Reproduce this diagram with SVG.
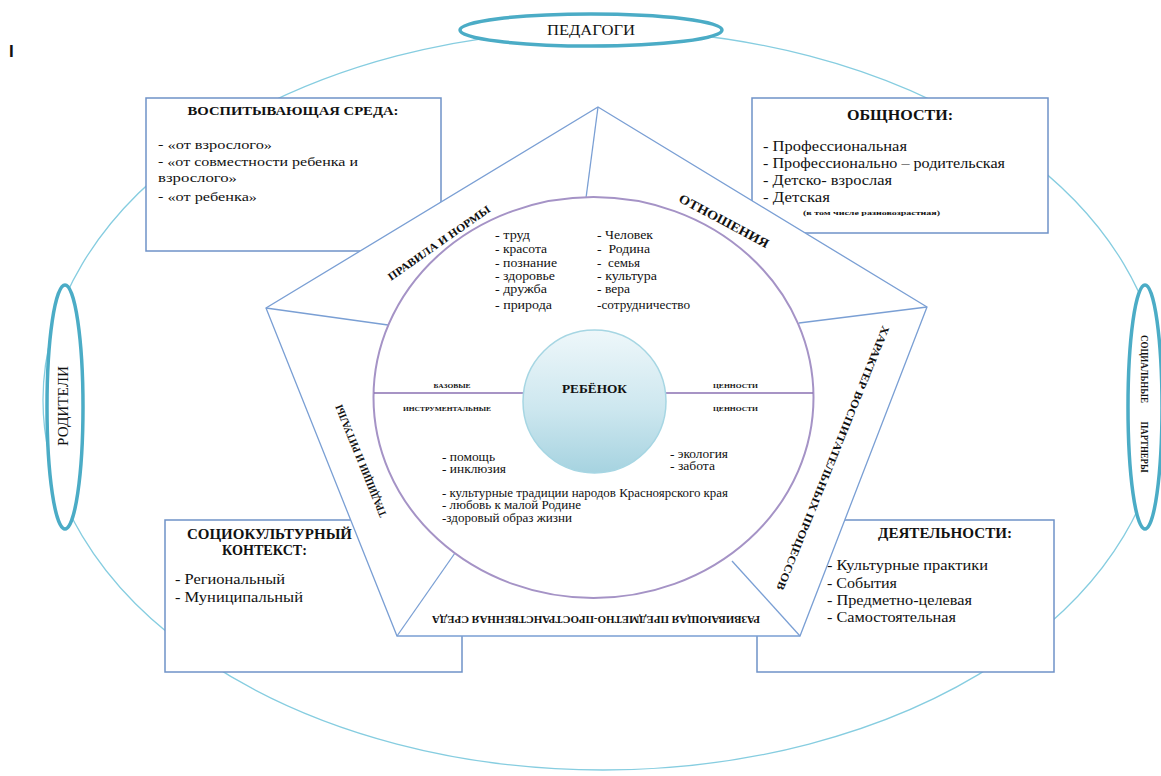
<svg xmlns="http://www.w3.org/2000/svg" width="1161" height="776" viewBox="0 0 1161 776">
<defs>
<linearGradient id="sph" x1="0" y1="0" x2="0" y2="1">
<stop offset="0" stop-color="#eef7fa"/>
<stop offset="0.55" stop-color="#cde7ef"/>
<stop offset="1" stop-color="#a6d3e0"/>
</linearGradient>
</defs>
<style>
text{font-family:"Liberation Serif","Times New Roman",serif;fill:#111}
.b{font-weight:bold}
.box{fill:#fff;stroke:#6f92c8;stroke-width:1.5}
.oval{fill:#fff;stroke:#4bacc6;stroke-width:3.5}
.pent{stroke:#7a9fd4;stroke-width:1.3}
.t12{font-size:12px}
.t11{font-size:11.5px}
.t13{font-size:13px}
.t14{font-size:14px}
.lab{font-size:11px;font-weight:bold}
.tiny{font-size:6px;font-weight:bold}
.mid{text-anchor:middle}
</style>
<rect width="1161" height="776" fill="#fff"/>
<text x="9" y="57" style="font-family:'Liberation Sans',Arial,sans-serif;font-size:17px;font-weight:bold">I</text>

<g id="connectors">
<ellipse cx="603" cy="400" rx="560" ry="370" fill="none" stroke="#86cde0" stroke-width="1.3"/>
</g>

<g id="pedagogi">
<ellipse class="oval" cx="591" cy="30" rx="131" ry="16"/>
<text class="t14 mid" x="591" y="35" textLength="88" lengthAdjust="spacingAndGlyphs">ПЕДАГОГИ</text>
</g>
<g id="roditeli">
<ellipse class="oval" cx="65" cy="407" rx="18" ry="122"/>
<text class="t14 mid" transform="translate(68,406) rotate(-90)" textLength="80" lengthAdjust="spacingAndGlyphs">РОДИТЕЛИ</text>
</g>
<g id="partnery">
<ellipse class="oval" cx="1145" cy="407" rx="17" ry="122"/>
<text class="b" style="font-size:10px" transform="translate(1141,404) rotate(90)"><tspan x="-35" text-anchor="middle" textLength="68" lengthAdjust="spacingAndGlyphs">СОЦИАЛЬНЫЕ</tspan><tspan x="43" text-anchor="middle" textLength="51" lengthAdjust="spacingAndGlyphs">ПАРТНЕРЫ</tspan></text>
</g>

<g id="box-sreda">
<rect class="box" x="146" y="98" width="295" height="153"/>
<text class="b t13 mid" x="293" y="115" textLength="211" lengthAdjust="spacingAndGlyphs">ВОСПИТЫВАЮЩАЯ СРЕДА:</text>
<text class="t13" x="158" y="149" textLength="114" lengthAdjust="spacingAndGlyphs">- «от взрослого»</text>
<text class="t13" x="158" y="166" textLength="200" lengthAdjust="spacingAndGlyphs">- «от совместности ребенка и</text>
<text class="t13" x="158" y="182" textLength="79" lengthAdjust="spacingAndGlyphs">взрослого»</text>
<text class="t13" x="158" y="201" textLength="99" lengthAdjust="spacingAndGlyphs">- «от ребенка»</text>
</g>

<g id="box-obshchnosti">
<rect class="box" x="752" y="98" width="296" height="135"/>
<text class="b mid" style="font-size:15px" x="900" y="120" textLength="106" lengthAdjust="spacingAndGlyphs">ОБЩНОСТИ:</text>
<text class="t14" x="763" y="151" textLength="144" lengthAdjust="spacingAndGlyphs">- Профессиональная</text>
<text class="t14" x="763" y="168" textLength="242" lengthAdjust="spacingAndGlyphs">- Профессионально – родительская</text>
<text class="t14" x="763" y="185" textLength="129" lengthAdjust="spacingAndGlyphs">- Детско- взрослая</text>
<text class="t14" x="763" y="202" textLength="67" lengthAdjust="spacingAndGlyphs">- Детская</text>
<text class="b" style="font-size:7px" x="803" y="214.5" textLength="137" lengthAdjust="spacingAndGlyphs">(в том числе разновозрастная)</text>
</g>

<g id="box-socio">
<rect class="box" x="165" y="520" width="297" height="152"/>
<text class="b t14 mid" x="269.5" y="539" textLength="165" lengthAdjust="spacingAndGlyphs">СОЦИОКУЛЬТУРНЫЙ</text>
<text class="b t14 mid" x="264.5" y="555" textLength="85" lengthAdjust="spacingAndGlyphs">КОНТЕКСТ:</text>
<text class="t14" x="175" y="584" textLength="110" lengthAdjust="spacingAndGlyphs">- Региональный</text>
<text class="t14" x="175" y="602" textLength="128" lengthAdjust="spacingAndGlyphs">- Муниципальный</text>
</g>

<g id="box-deyatelnosti">
<rect class="box" x="757" y="520" width="297" height="152"/>
<text class="b t14 mid" x="945" y="538" textLength="134" lengthAdjust="spacingAndGlyphs">ДЕЯТЕЛЬНОСТИ:</text>
<text class="t14" x="827" y="570" textLength="161" lengthAdjust="spacingAndGlyphs">- Культурные практики</text>
<text class="t14" x="827" y="588" textLength="70" lengthAdjust="spacingAndGlyphs">- События</text>
<text class="t14" x="827" y="605" textLength="145" lengthAdjust="spacingAndGlyphs">- Предметно-целевая</text>
<text class="t14" x="827" y="622" textLength="129" lengthAdjust="spacingAndGlyphs">- Самостоятельная</text>
</g>

<g id="pentagon">
<polygon class="pent" fill="#fff" points="598,107 927,307 800,636 397,636 266,308"/>
<line class="pent" x1="598" y1="107" x2="586" y2="198"/>
<line class="pent" x1="927" y1="307" x2="799" y2="323"/>
<line class="pent" x1="800" y1="636" x2="732" y2="561"/>
<line class="pent" x1="397" y1="636" x2="455" y2="553"/>
<line class="pent" x1="266" y1="308" x2="388" y2="325"/>
<text class="lab mid" dy="0.33em" transform="translate(439,243) rotate(-35)" textLength="122" lengthAdjust="spacingAndGlyphs">ПРАВИЛА И НОРМЫ</text>
<text class="lab mid" style="font-size:13px" dy="0.33em" transform="translate(724,221) rotate(28)" textLength="100" lengthAdjust="spacingAndGlyphs">ОТНОШЕНИЯ</text>
<text class="lab mid" dy="0.33em" transform="translate(833,458) rotate(112)" textLength="284" lengthAdjust="spacingAndGlyphs">ХАРАКТЕР ВОСПИТАТЕЛЬНЫХ ПРОЦЕССОВ</text>
<text class="lab mid" style="font-size:10.5px" dy="0.33em" transform="translate(596,619) rotate(180)" textLength="328" lengthAdjust="spacingAndGlyphs">РАЗВИВАЮЩАЯ ПРЕДМЕТНО-ПРОСТРАНСТВЕННАЯ СРЕДА</text>
<text class="lab mid" dy="0.33em" transform="translate(361,461) rotate(-112)" textLength="120" lengthAdjust="spacingAndGlyphs">ТРАДИЦИИ И РИТУАЛЫ</text>
</g>

<g id="values-circle">
<ellipse cx="593.5" cy="397.5" rx="220" ry="200.5" fill="#fff" stroke="#a593c6" stroke-width="2"/>
<line x1="374" y1="393" x2="813" y2="393" stroke="#8a70b2" stroke-width="1.4"/>
<text class="tiny mid" x="452" y="387.5" textLength="37" lengthAdjust="spacingAndGlyphs">БАЗОВЫЕ</text>
<text class="tiny mid" x="447" y="410.5" textLength="88" lengthAdjust="spacingAndGlyphs">ИНСТРУМЕНТАЛЬНЫЕ</text>
<text class="tiny mid" x="735.5" y="387.5" textLength="45" lengthAdjust="spacingAndGlyphs">ЦЕННОСТИ</text>
<text class="tiny mid" x="735.5" y="410.5" textLength="45" lengthAdjust="spacingAndGlyphs">ЦЕННОСТИ</text>
<text class="t11" x="495" y="239" textLength="35" lengthAdjust="spacingAndGlyphs">- труд</text>
<text class="t11" x="495" y="253" textLength="52" lengthAdjust="spacingAndGlyphs">- красота</text>
<text class="t11" x="495" y="266.5" textLength="62" lengthAdjust="spacingAndGlyphs">- познание</text>
<text class="t11" x="495" y="279.5" textLength="60" lengthAdjust="spacingAndGlyphs">- здоровье</text>
<text class="t11" x="495" y="292.5" textLength="52" lengthAdjust="spacingAndGlyphs">- дружба</text>
<text class="t11" x="495" y="309" textLength="57" lengthAdjust="spacingAndGlyphs">- природа</text>
<text class="t11" x="597" y="239" textLength="56" lengthAdjust="spacingAndGlyphs">- Человек</text>
<text class="t11" x="597" y="253" xml:space="preserve" textLength="53" lengthAdjust="spacingAndGlyphs">-  Родина</text>
<text class="t11" x="597" y="266.5" xml:space="preserve" textLength="43" lengthAdjust="spacingAndGlyphs">-  семья</text>
<text class="t11" x="597" y="279.5" textLength="60" lengthAdjust="spacingAndGlyphs">- культура</text>
<text class="t11" x="597" y="292.5" textLength="33" lengthAdjust="spacingAndGlyphs">- вера</text>
<text class="t11" x="597" y="309" textLength="93" lengthAdjust="spacingAndGlyphs">-сотрудничество</text>
<text class="t11" x="442" y="460.5" textLength="53" lengthAdjust="spacingAndGlyphs">- помощь</text>
<text class="t11" x="442" y="472.5" textLength="64" lengthAdjust="spacingAndGlyphs">- инклюзия</text>
<text class="t11" x="670" y="457.5" textLength="58" lengthAdjust="spacingAndGlyphs">- экология</text>
<text class="t11" x="670" y="469.5" textLength="45" lengthAdjust="spacingAndGlyphs">- забота</text>
<text class="t11" x="442" y="497" textLength="286" lengthAdjust="spacingAndGlyphs">- культурные традиции народов Красноярского края</text>
<text class="t11" x="442" y="509" textLength="139" lengthAdjust="spacingAndGlyphs">- любовь к малой Родине</text>
<text class="t11" x="442" y="521.5" textLength="130" lengthAdjust="spacingAndGlyphs">-здоровый образ жизни</text>
</g>

<g id="child">
<circle cx="594.5" cy="401.5" r="71.5" fill="url(#sph)" stroke="#a6d6e3" stroke-width="1.5"/>
<text class="b t13 mid" x="594.5" y="393" textLength="65" lengthAdjust="spacingAndGlyphs">РЕБЁНОК</text>
</g>
</svg>
